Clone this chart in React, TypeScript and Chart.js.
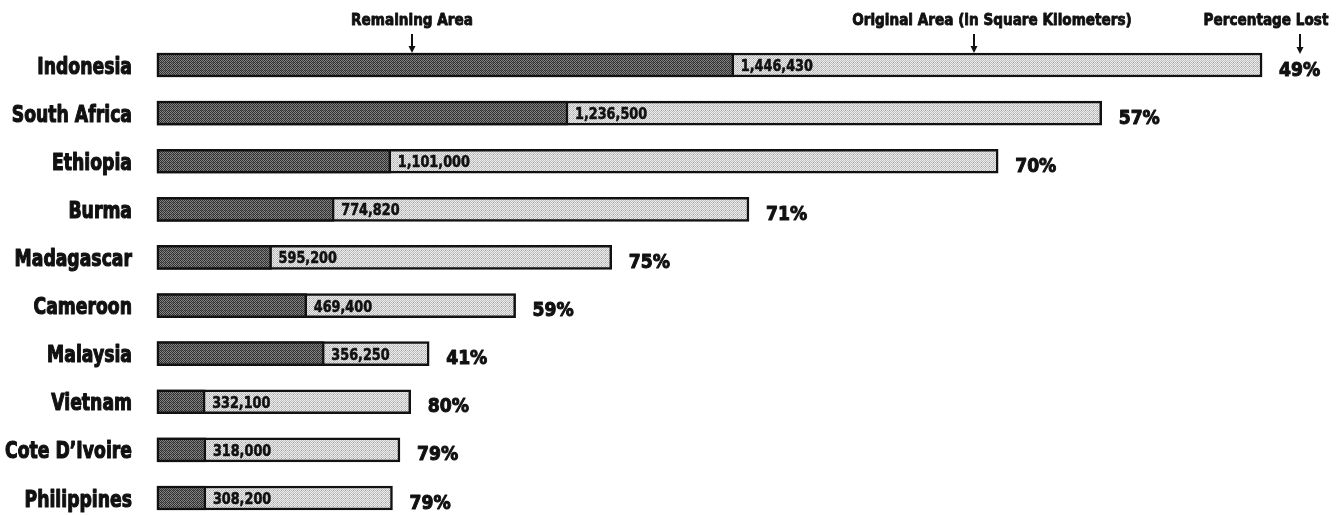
import React, { useEffect, useRef } from "react";
import { Chart, registerables } from "chart.js";

Chart.register(...registerables);

const countries = [
  "Indonesia",
  "South Africa",
  "Ethiopia",
  "Burma",
  "Madagascar",
  "Cameroon",
  "Malaysia",
  "Vietnam",
  "Cote D\u2019Ivoire",
  "Philippines",
];
const originalArea = [1446430, 1236500, 1101000, 774820, 595200, 469400, 356250, 332100, 318000, 308200];
const originalAreaLabels = ["1,446,430", "1,236,500", "1,101,000", "774,820", "595,200", "469,400", "356,250", "332,100", "318,000", "308,200"];
const remainingArea = [755000, 538000, 306000, 232000, 150000, 196000, 219000, 63000, 64000, 64000];
const percentLost = ["49%", "57%", "70%", "71%", "75%", "59%", "41%", "80%", "79%", "79%"];
const headerLabels = ["Remaining Area", "Original Area (in Square Kilometers)", "Percentage Lost"];

const FONT = '"DejaVu Sans", "Liberation Sans", sans-serif';
const INK = "#111111";

function drawScaledText(
  ctx: CanvasRenderingContext2D,
  text: string,
  x: number,
  y: number,
  size: number,
  sx: number,
  align: CanvasTextAlign,
  weight: number
) {
  ctx.save();
  ctx.font = `bold ${size}px ${FONT}`;
  ctx.fillStyle = INK;
  ctx.strokeStyle = INK;
  ctx.lineJoin = "round";
  ctx.translate(x, y);
  ctx.scale(sx, 1);
  ctx.textAlign = align;
  ctx.textBaseline = "alphabetic";
  ctx.fillText(text, 0, 0);
  if (weight > 0) {
    ctx.lineWidth = weight;
    ctx.strokeText(text, 0, 0);
  }
  ctx.restore();
}

function makePattern(ctx: CanvasRenderingContext2D, a: string, b: string, c: string) {
  const cv = document.createElement("canvas");
  cv.width = 4;
  cv.height = 4;
  const g = cv.getContext("2d")!;
  for (let y = 0; y < 4; y++) {
    for (let x = 0; x < 4; x++) {
      let col = (x + y) % 2 === 0 ? a : b;
      if (x === 1 && y === 2) col = c;
      g.fillStyle = col;
      g.fillRect(x, y, 1, 1);
    }
  }
  return ctx.createPattern(cv, "repeat")!;
}

const annotationPlugin = {
  id: "annotations",
  afterDatasetsDraw(chart: any) {
    const ctx: CanvasRenderingContext2D = chart.ctx;
    const xs = chart.scales.x;
    const ys = chart.scales.y;

    countries.forEach((name, i) => {
      const cy = ys.getPixelForValue(i);
      // category label
      drawScaledText(ctx, name, 132, cy + 8.5, 23, 0.75, "right", 1.2);
      // value label inside the light part
      const xr = xs.getPixelForValue(remainingArea[i]);
      drawScaledText(ctx, originalAreaLabels[i], xr + 7, cy + 6, 16, 0.8, "left", 0.6);
      // percentage lost
      const xo = xs.getPixelForValue(originalArea[i]);
      drawScaledText(ctx, percentLost[i], xo + 17, cy + 10.5, 20, 0.86, "left", 1.1);
    });

    // header labels with arrows
    const headers = [
      { text: headerLabels[0], cx: 412, ax: 412, ay1: 34, ay2: 53 },
      { text: headerLabels[1], cx: 992, ax: 974, ay1: 34, ay2: 53 },
      { text: headerLabels[2], cx: 1266, ax: 1300, ay1: 34, ay2: 54 },
    ];
    headers.forEach((h) => {
      drawScaledText(ctx, h.text, h.cx, 25, 16, 0.85, "center", 0.9);
      ctx.save();
      ctx.strokeStyle = INK;
      ctx.fillStyle = INK;
      ctx.lineWidth = 2;
      ctx.beginPath();
      ctx.moveTo(h.ax, h.ay1);
      ctx.lineTo(h.ax, h.ay2 - 5);
      ctx.stroke();
      ctx.beginPath();
      ctx.moveTo(h.ax - 3.5, h.ay2 - 7);
      ctx.lineTo(h.ax + 3.5, h.ay2 - 7);
      ctx.lineTo(h.ax, h.ay2);
      ctx.closePath();
      ctx.fill();
      ctx.restore();
    });
  },
};

export default function App() {
  const canvasRef = useRef<HTMLCanvasElement | null>(null);

  useEffect(() => {
    const canvas = canvasRef.current;
    if (!canvas) return;
    const ctx = canvas.getContext("2d")!;
    const darkPattern = makePattern(ctx, "#303030", "#858585", "#5e5e5e");
    const lightPattern = makePattern(ctx, "#ececec", "#bdbdbd", "#9a9a9a");

    const chart = new Chart(ctx, {
      type: "bar",
      data: {
        labels: countries,
        datasets: [
          {
            label: "Remaining Area",
            data: remainingArea,
            backgroundColor: darkPattern as any,
            borderColor: INK,
            borderWidth: 2.5,
            borderSkipped: false,
            barThickness: 24,
            grouped: false,
            clip: false as any,
            order: 0,
          },
          {
            label: "Original Area",
            data: originalArea,
            backgroundColor: lightPattern as any,
            borderColor: INK,
            borderWidth: 2.5,
            borderSkipped: false,
            barThickness: 24,
            grouped: false,
            clip: false as any,
            order: 1,
          },
        ],
      },
      options: {
        indexAxis: "y",
        responsive: false,
        animation: false,
        devicePixelRatio: 1,
        layout: { padding: { left: 157, right: 40, top: 65, bottom: 17 } },
        scales: {
          x: { type: "linear", min: 0, max: 1500000, display: false },
          y: { type: "category", offset: false, display: false },
        },
        plugins: {
          legend: { display: false },
          tooltip: { enabled: false },
        },
      },
      plugins: [annotationPlugin],
    } as any);

    return () => chart.destroy();
  }, []);

  return (
    <div style={{ position: "absolute", left: 0, top: 0, width: 1343, height: 515, background: "#ffffff" }}>
      <canvas ref={canvasRef} width={1343} height={515} style={{ display: "block" }} />
    </div>
  );
}
